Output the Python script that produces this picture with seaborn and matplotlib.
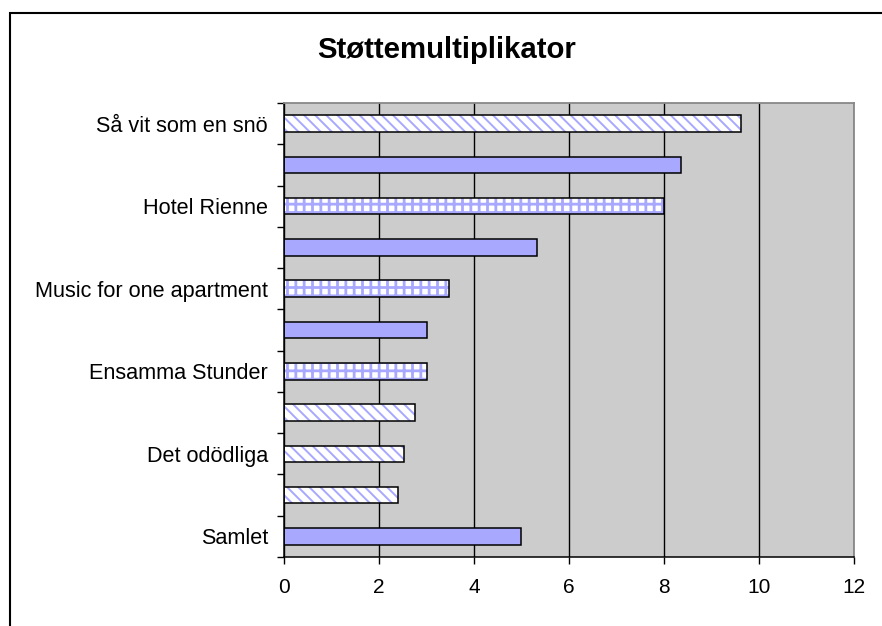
import matplotlib
matplotlib.use("Agg")
import matplotlib.pyplot as plt
import seaborn as sns
import pandas as pd
from matplotlib.patches import Rectangle

# ---- data ----
row_ids = ["r1", "r2", "r3", "r4", "r5", "r6", "r7", "r8", "r9", "r10", "r11"]
tick_labels = ["Så vit som en snö", "", "Hotel Rienne", "", "Music for one apartment",
               "", "Ensamma Stunder", "", "Det odödliga", "", "Samlet"]
values = [9.62, 8.35, 8.0, 5.33, 3.48, 3.02, 3.02, 2.76, 2.52, 2.39, 4.99]
patterns = ["diag", "solid", "check", "solid", "check", "solid", "check",
            "diag", "diag", "diag", "solid"]
x_ticks = [0, 2, 4, 6, 8, 10, 12]
title = "Støttemultiplikator"

sns.set_style("white")
plt.rcParams['font.family'] = ['Liberation Sans', 'DejaVu Sans']
plt.rcParams['hatch.linewidth'] = 1.6
for k in ['text.color', 'axes.labelcolor', 'xtick.color', 'ytick.color']:
    plt.rcParams[k] = 'black'

BLUE = "#A8A8FF"
df = pd.DataFrame({"row": row_ids, "value": values})

fig = plt.figure(figsize=(8.82, 6.26), dpi=100)
# outer chart frame
fig.patches.append(Rectangle((10 / 882, -0.05), 1.1, 1 - 13 / 626 + 0.05,
                             transform=fig.transFigure, fill=False,
                             edgecolor="black", linewidth=1.5))
ax = fig.add_axes([284 / 882, 1 - 557 / 626, 570 / 882, 454 / 626])
ax.set_facecolor("#CCCCCC")

sns.barplot(data=df, x="value", y="row", orient="h", ax=ax, width=0.4,
            color=BLUE, saturation=1, linewidth=0, errorbar=None)
for patch, pat in zip(ax.patches, patterns):
    if pat == "solid":
        patch.set_facecolor(BLUE)
        patch.set_edgecolor(BLUE)
    else:
        patch.set_facecolor("white")
        patch.set_edgecolor(BLUE)
        patch.set_hatch("\\\\\\" if pat == "diag" else "++")
        patch.set_linewidth(0)
        if hasattr(patch, "set_hatch_linewidth"):
            patch.set_hatch_linewidth(1.4 if pat == "diag" else 2.0)
# black outlines on top
n_before = len(ax.patches)
sns.barplot(data=df, x="value", y="row", orient="h", ax=ax, width=0.4,
            fill=False, edgecolor="black", linewidth=1.1, errorbar=None)
for p in ax.patches[n_before:]:
    p.set_facecolor("none")
    p.set_edgecolor("black")
    p.set_zorder(3)

ax.set_xlim(0, 12)
ax.set_ylim(len(row_ids) - 0.5, -0.5)
ax.set_xticks(x_ticks)
ax.set_xticklabels([str(t) for t in x_ticks], fontsize=15)
ax.set_yticks(range(len(row_ids)))
ax.set_yticklabels(tick_labels, fontsize=15.6)
ax.set_yticks([i - 0.5 for i in range(len(row_ids) + 1)], minor=True)
ax.tick_params(axis="y", which="major", length=0, pad=11.5)
ax.tick_params(axis="y", which="minor", length=5, width=1, color="black", direction="out", left=True)
ax.tick_params(axis="x", which="major", length=5, width=1, color="black", direction="out",
               bottom=True, pad=10)
ax.set_xlabel("")
ax.set_ylabel("")
ax.set_axisbelow(True)
ax.grid(axis="x", color="black", linewidth=1)
ax.grid(axis="y", visible=False)
for s in ["left", "bottom"]:
    ax.spines[s].set_color("black")
    ax.spines[s].set_linewidth(1.1)
for s in ["top", "right"]:
    ax.spines[s].set_color("#888888")
    ax.spines[s].set_linewidth(1.3)

fig.text(447 / 882, 1 - 50 / 626, title, ha="center", va="center",
         fontsize=21.2, fontweight="bold")

fig.savefig("out.png", dpi=100)
